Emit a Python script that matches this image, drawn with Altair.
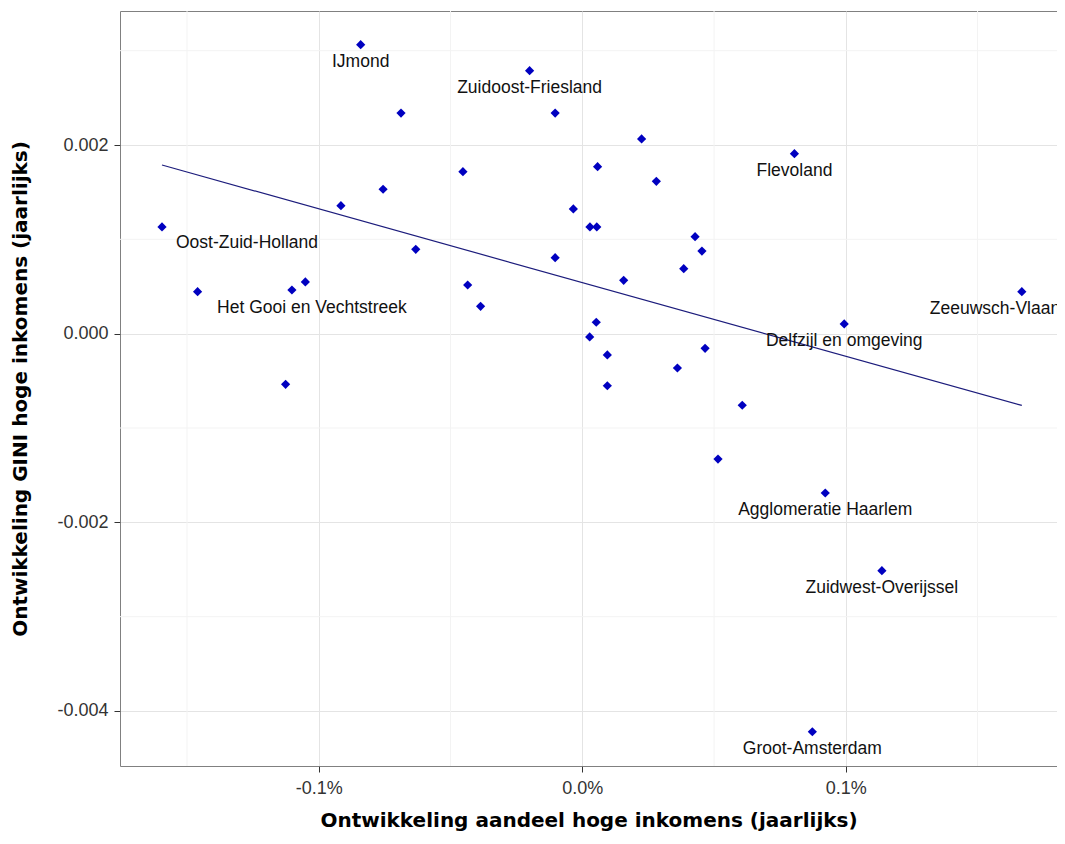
import altair as alt
import pandas as pd

# ontwikkeling aandeel hoge inkomens (fraction, 0.001 = 0.1%)
x_vals = [-0.001595, -0.001460, -0.001126, -0.001102, -0.001051, -0.000916, -0.000841,
          -0.000756, -0.000688, -0.000632, -0.000453, -0.000435, -0.000386, -0.000200,
          -0.000103, -0.000103, -0.000034, 0.000028, 0.000029, 0.000055, 0.000053,
          0.000058, 0.000095, 0.000095, 0.000157, 0.000225, 0.000281, 0.000361,
          0.000385, 0.000428, 0.000454, 0.000466, 0.000515, 0.000607, 0.000873,
          0.000805, 0.000922, 0.000994, 0.001137, 0.001668]
# ontwikkeling GINI hoge inkomens
y_vals = [0.001131, 0.000445, -0.000537, 0.000463, 0.000548, 0.001357, 0.003063,
          0.001531, 0.002339, 0.000894, 0.001717, 0.000516, 0.000290, 0.002788,
          0.002339, 0.000805, 0.001322, -0.000035, 0.001131, 0.001131, 0.000121,
          0.001770, -0.000226, -0.000552, 0.000566, 0.002064, 0.001615, -0.000364,
          0.000689, 0.001028, 0.000876, -0.000155, -0.001329, -0.000759, -0.004220,
          0.001908, -0.001689, 0.000103, -0.002513, 0.000445]
names = ["Oost-Zuid-Holland", "", "", "Het Gooi en Vechtstreek", "", "", "IJmond",
         "", "", "", "", "", "", "Zuidoost-Friesland",
         "", "", "", "", "", "", "",
         "", "", "", "", "", "", "",
         "", "", "", "", "", "", "Groot-Amsterdam",
         "Flevoland", "Agglomeratie Haarlem", "Delfzijl en omgeving", "Zuidwest-Overijssel",
         "Zeeuwsch-Vlaanderen"]

minor_x = [-0.0015, -0.0005, 0.0005, 0.0015]
minor_y = [0.003, 0.001, -0.001, -0.003]
major_x = [-0.001, 0.0, 0.001]
major_y = [-0.004, -0.002, 0.0, 0.002]

df = pd.DataFrame({"x": x_vals, "y": y_vals, "name": names})

FONT = "Liberation Sans"
TFONT = "DejaVu Sans"
xdom = [-0.0017544, 0.0018015]
ydom = [-0.0045832, 0.0034206]

xs = alt.Scale(domain=xdom, nice=False, zero=False)
ys = alt.Scale(domain=ydom, nice=False, zero=False)

fix_minus = "replace(datum.label, '\u2212', '-')"

X = alt.X("x:Q", scale=xs,
          axis=alt.Axis(values=major_x, format=".1%", labelExpr=fix_minus,
                        title="Ontwikkeling aandeel hoge inkomens (jaarlijks)"))
Y = alt.Y("y:Q", scale=ys,
          axis=alt.Axis(values=major_y, format=".3f", labelExpr=fix_minus,
                        title="Ontwikkeling GINI hoge inkomens (jaarlijks)"))

minor_xr = alt.Chart(pd.DataFrame({"x": minor_x})).mark_rule(
    color="#f3f3f3", strokeWidth=1).encode(x=alt.X("x:Q", scale=xs))
minor_yr = alt.Chart(pd.DataFrame({"y": minor_y})).mark_rule(
    color="#f3f3f3", strokeWidth=1).encode(y=alt.Y("y:Q", scale=ys))

base = alt.Chart(df)

points = base.mark_point(shape="diamond", filled=True, size=85, opacity=1,
                         color="#0000c0").encode(x=X, y=Y)

reg = base.transform_regression("x", "y").mark_line(
    color="#1c1c7c", strokeWidth=1.2).encode(x=alt.X("x:Q", scale=xs), y=alt.Y("y:Q", scale=ys))

def label_layer(sel, dx, dy, align="center"):
    return base.transform_filter(
        alt.FieldOneOfPredicate(field="name", oneOf=sel)
    ).mark_text(font=FONT, fontSize=17.5, color="#111111", align=align,
                baseline="middle", dx=dx, dy=dy, clip=True).encode(
        x=alt.X("x:Q", scale=xs), y=alt.Y("y:Q", scale=ys), text="name:N")

centered = ["IJmond", "Zuidoost-Friesland", "Flevoland", "Delfzijl en omgeving",
            "Agglomeratie Haarlem", "Zuidwest-Overijssel", "Groot-Amsterdam"]

labels = (label_layer(centered, 0, 17)
          + label_layer(["Oost-Zuid-Holland"], 85, 16)
          + label_layer(["Het Gooi en Vechtstreek"], 20, 18)
          + label_layer(["Zeeuwsch-Vlaanderen"], -92, 17, align="left"))

chart = alt.layer(minor_xr, minor_yr, reg, points, labels).properties(
    width=937, height=755,
    autosize=alt.AutoSizeParams(type="none"),
    padding={"left": 112, "top": 3, "right": 0, "bottom": 70},
).configure_view(
    stroke="#808080", strokeWidth=1
).configure_axis(
    grid=True, gridColor="#e4e4e4", gridWidth=1,
    domain=False, ticks=True, tickColor="#333333", tickSize=6,
    labelFont=FONT, labelFontSize=18, labelColor="#333333",
    titleFont=TFONT, titleFontSize=20, titleFontWeight="bold", titleColor="#000000",
).configure_axisX(
    labelPadding=7, titlePadding=13
).configure_axisY(
    labelPadding=6, titlePadding=26
)

chart.save("out.html", embed_options={"renderer": "svg", "actions": False})
